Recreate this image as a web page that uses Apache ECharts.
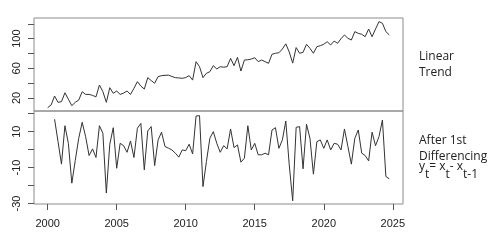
<!DOCTYPE html>
<html><head><meta charset="utf-8">
<script src="https://cdn.jsdelivr.net/npm/echarts@6/dist/echarts.min.js"></script>
<style>html,body{margin:0;padding:0;background:#fff}#c{width:500px;height:247px}</style>
</head><body><div id="c"></div>
<script>
// quarterly series starting 2000 Q1
const trendStart = 2000;
const diffStart = 2000.5;
const perYear = 4;
const trendValues = [
 6.9,10.5,22.6,14.1,15,27,18.3,9.6,14.1,17.2,
 28.4,24.8,24.8,23.5,21.5,37.5,28.5,14.1,33.9,26.3,
 29.4,24.8,26.5,29.4,24.8,33,42,36,32,47.4,
 43.5,39.8,48.8,50.1,50.5,50.8,49,47.4,47,46.5,
 47.5,50.1,44.1,69,62.2,47.4,53.3,55.4,63.6,59.1,
 62.2,61.5,62.2,73.5,63.6,74.8,56.3,71.2,71.5,72.5,
 74.3,69,71.2,69,66.7,78.9,80.3,81,86,93,
 82,67,88,80.3,81.6,92.4,87,80.3,89.2,90.5,
 92.5,95.9,91.5,96.8,93.7,100,105,100.5,98.2,109.5,
 107.2,105.9,102.7,113,102.7,113,123,120.8,109.5,105
];
const diffValues = [
 16.9,4.5,-8.1,13.3,3.5,-18.7,-6,6.3,15.2,7.2,
 -3.3,0.4,-4.4,13.3,9.1,-24.2,3,12.2,-10.4,3.5,
 2.2,-1.5,4.8,-4.4,11.9,14.6,-11.3,10.4,12.8,-8.9,
 5.4,9.7,1.7,0.8,-0.2,-2,-4.2,-0.2,-0.6,3,
 -2.4,18.7,18.9,-20.6,-6.7,6.3,10,3.5,-1.5,2.2,
 0.4,11.5,1.1,2.6,-7,-4.8,13.3,-0.2,3.5,-2.9,
 -2.9,-2,-2.9,10.9,12.2,0.7,5.4,15.9,-8.5,-28.5,
 12.4,12.8,-10.7,14.1,6.3,-13.7,4.4,5.4,0.7,5.4,
 -0.2,3.5,3,-0.2,11.5,1.7,-8.1,6.3,10.9,-2,
 -3.3,-6.3,9.7,2.2,7.2,16.5,-15,-16.3
];
const xTicks = [2000,2005,2010,2015,2020,2025];
const trendTicks = [20,40,60,80,100,120];
const trendLabels = [20,60,100];
const diffTicks = [-30,-20,-10,0,10,20];
const diffLabels = [-30,-10,10];
const topLabel = 'Linear\nTrend';
const bottomLabel = 'After 1st\nDifferencing';

const trendData = trendValues.map((v,i)=>[trendStart + i/perYear, v]);
const diffData = diffValues.map((v,i)=>[diffStart + i/perYear, v]);

const font = 'Liberation Sans';
const tickStyle = {color:'#555', width:1};
const plain = v => String(v);
const chart = echarts.init(document.getElementById('c'), null, {renderer:'canvas'});
chart.setOption({
  animation:false,
  backgroundColor:'#fff',
  grid:[
    {left:34, top:18, width:369, height:93, show:true, borderColor:'#8c8c8c', borderWidth:1, backgroundColor:'transparent'},
    {left:34, top:111, width:369, height:93, show:true, borderColor:'#8c8c8c', borderWidth:1, backgroundColor:'transparent'}
  ],
  xAxis:[
    {gridIndex:0, type:'value', min:1999.01, max:2025.74, position:'bottom', axisLine:{show:false, onZero:false}, axisTick:{show:false}, axisLabel:{show:false}, splitLine:{show:false}},
    {gridIndex:1, type:'value', min:1999.01, max:2025.74, position:'bottom', axisLine:{show:false, onZero:false}, splitLine:{show:false},
     axisTick:{show:true, customValues:xTicks, length:6, lineStyle:tickStyle},
     axisLabel:{customValues:xTicks, formatter:plain, fontSize:11, fontFamily:font, color:'#222', margin:14}}
  ],
  yAxis:[
    {gridIndex:0, type:'value', min:2.4, max:127.9, position:'left', axisLine:{show:false, onZero:false}, splitLine:{show:false},
     axisTick:{show:true, customValues:trendTicks, length:6, lineStyle:tickStyle},
     axisLabel:{customValues:trendLabels, formatter:plain, rotate:90, fontSize:11, fontFamily:font, color:'#222', margin:12}},
    {gridIndex:1, type:'value', min:-30.3, max:21.5, position:'left', axisLine:{show:false, onZero:false}, splitLine:{show:false},
     axisTick:{show:true, customValues:diffTicks, length:6, lineStyle:tickStyle},
     axisLabel:{customValues:diffLabels, formatter:plain, rotate:90, fontSize:11, fontFamily:font, color:'#222', margin:12}}
  ],
  series:[
    {type:'line', xAxisIndex:0, yAxisIndex:0, data:trendData, showSymbol:false, lineStyle:{color:'#333', width:1}},
    {type:'line', xAxisIndex:1, yAxisIndex:1, data:diffData, showSymbol:false, lineStyle:{color:'#333', width:1}}
  ],
  graphic:[
    {type:'text', left:419, top:48, style:{text:topLabel, font:'12px "Open Sans"', lineHeight:16.5, fill:'#222'}},
    {type:'text', left:419, top:133, style:{text:bottomLabel, font:'12px "Open Sans"', lineHeight:15.5, fill:'#222'}},
    {type:'text', left:419, top:161, style:{
      text:'{b|y}{s|t}{b|= x}{s|t}{b|- x}{s|t-1}',
      rich:{
        b:{fontFamily:'Open Sans', fontSize:12, fill:'#222'},
        s:{fontFamily:'Open Sans', fontSize:12, fill:'#222', padding:[15,0,0,0]}
      }}}
  ]
});
</script>
</body></html>
